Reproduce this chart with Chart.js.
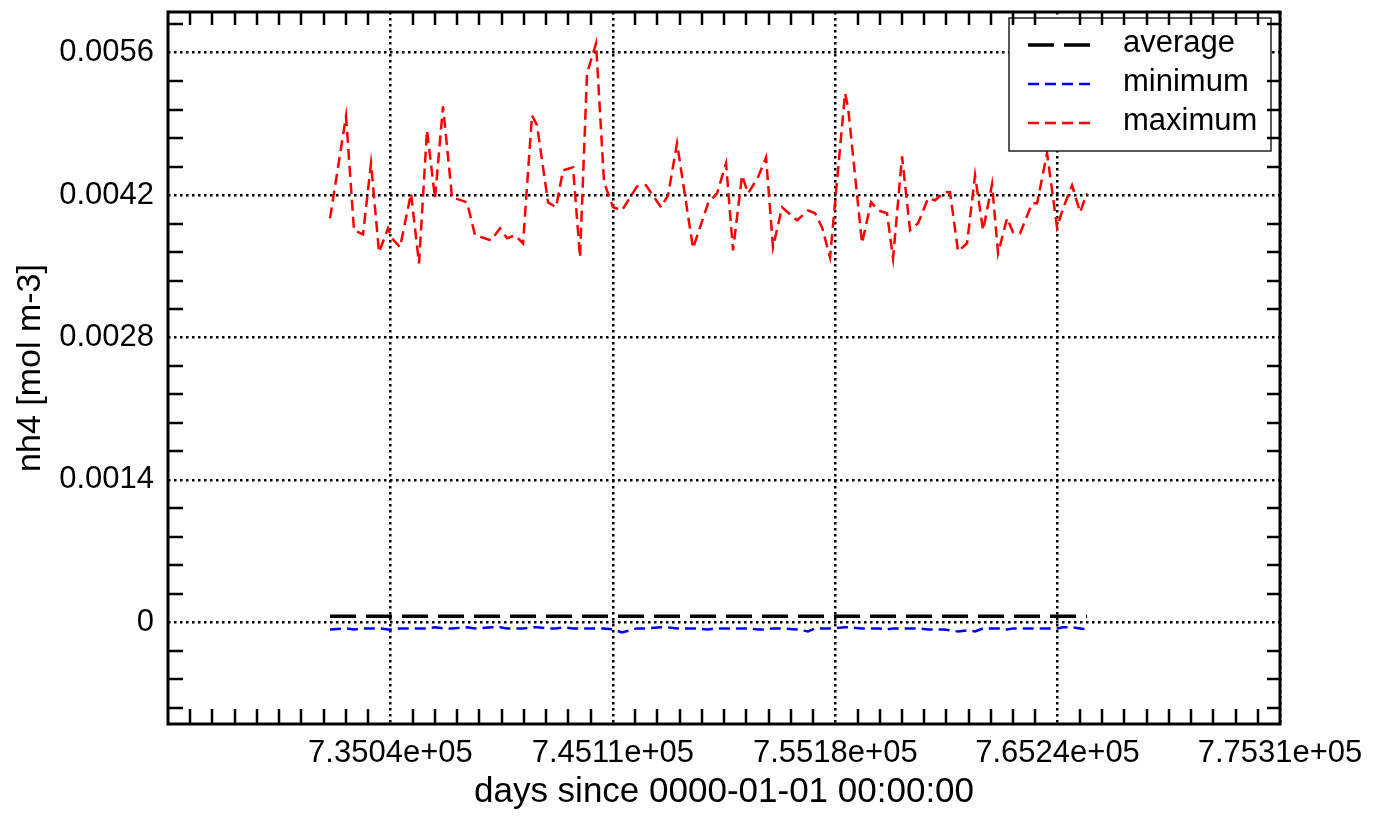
<!DOCTYPE html>
<html>
<head>
<meta charset="utf-8">
<title>nh4</title>
<script src="https://cdn.jsdelivr.net/npm/chart.js@4.4.1/dist/chart.umd.min.js"></script>
<style>
  html, body { margin: 0; padding: 0; background: #fff; }
  #chart { display: block; }
</style>
</head>
<body>
<canvas id="chart" width="1376" height="817"></canvas>
<script>
(function () {
  "use strict";

  // days since 0000-01-01 for each sample
  const DAYS = [
    732307, 733031, 733393, 733801, 734163, 734525, 734932, 735113, 735476, 735974,
    736336, 736698, 737060, 737422, 737830, 738509, 738871, 739595, 740003, 740320,
    740682, 741044, 741451, 741678, 742176, 742538, 742855, 743307, 743624, 743941,
    744349, 744711, 745118, 745526, 746205, 746612, 747291, 747608, 748015, 748740,
    749419, 749826, 750234, 750551, 750958, 751230, 751682, 752044, 752361, 752769,
    753448, 753946, 754263, 754580, 754942, 755621, 755757, 756390, 756798, 757115,
    757522, 757794, 758201, 758563, 758926, 759378, 759695, 760103, 760374, 760736,
    761144, 761506, 761868, 762275, 762547, 762955, 763226, 763543, 764086, 764313,
    764765, 765218, 765490, 765897, 766259, 766576
  ];

  const MAXIMUM = [
    0.003972, 0.004975, 0.003854, 0.003814, 0.004512, 0.003637, 0.003873, 0.003775, 0.003687, 0.004217,
    0.003529, 0.004837, 0.004168, 0.005073, 0.004178, 0.004129, 0.003805, 0.003755, 0.003873, 0.003775,
    0.003805, 0.003726, 0.004984, 0.004886, 0.004129, 0.004080, 0.004444, 0.004473, 0.003588, 0.005397,
    0.005692, 0.004326, 0.004080, 0.004050, 0.004286, 0.004296, 0.004080, 0.004198, 0.004709, 0.003677,
    0.004119, 0.004217, 0.004512, 0.003657, 0.004394, 0.004217, 0.004375, 0.004571, 0.003687, 0.004080,
    0.003952, 0.004050, 0.004021, 0.003883, 0.003588, 0.005201, 0.005063, 0.003726, 0.004129, 0.004050,
    0.004021, 0.003578, 0.004581, 0.003854, 0.003923, 0.004168, 0.004149, 0.004227, 0.004227, 0.003647,
    0.003726, 0.004394, 0.003854, 0.004306, 0.003628, 0.003972, 0.003834, 0.003824, 0.004119, 0.004119,
    0.004611, 0.003883, 0.004070, 0.004296, 0.004031, 0.004217
  ];

  const MINIMUM = [
    -0.00007, -0.00006, -0.00007, -0.00006, -0.00006, -0.00006, -0.00007, -0.00007, -0.00006, -0.00006,
    -0.00006, -0.00006, -0.00005, -0.00006, -0.00006, -0.00005, -0.00006, -0.00005, -0.00005, -0.00006,
    -0.00006, -0.00006, -0.00005, -0.00005, -0.00006, -0.00006, -0.00005, -0.00006, -0.00006, -0.00006,
    -0.00006, -0.00006, -0.00007, -0.00010, -0.00006, -0.00006, -0.00005, -0.00005, -0.00006, -0.00006,
    -0.00007, -0.00006, -0.00006, -0.00006, -0.00006, -0.00006, -0.00007, -0.00007, -0.00006, -0.00006,
    -0.00007, -0.00009, -0.00006, -0.00006, -0.00006, -0.00005, -0.00005, -0.00006, -0.00006, -0.00006,
    -0.00007, -0.00006, -0.00006, -0.00006, -0.00006, -0.00007, -0.00007, -0.00007, -0.00008, -0.00009,
    -0.00008, -0.00009, -0.00006, -0.00006, -0.00006, -0.00007, -0.00006, -0.00006, -0.00006, -0.00006,
    -0.00006, -0.00006, -0.00005, -0.00005, -0.00006, -0.00007
  ];

  const AVERAGE_DAYS = [732307, 766576];
  const AVERAGE = [0.00006, 0.00006];

  const X_MIN = 724973;
  const X_MAX = 775310;
  const X_MAJOR = [735040, 745110, 755180, 765240, 775310];
  const X_LABELS = ["7.3504e+05", "7.4511e+05", "7.5518e+05", "7.6524e+05", "7.7531e+05"];
  const X_MINOR_DIV = 10;

  const Y_MIN = -0.001;
  const Y_MAX = 0.006;
  const Y_MAJOR = [0, 0.0014, 0.0028, 0.0042, 0.0056];
  const Y_LABELS = ["0", "0.0014", "0.0028", "0.0042", "0.0056"];
  const Y_MINOR_DIV = 5;

  const FONT = "'Liberation Sans', Arial, Helvetica, sans-serif";

  function points(xs, ys) {
    return xs.map((x, i) => ({ x: x, y: ys[i] }));
  }

  function buildXTicks(scale) {
    const bounds = [X_MIN].concat(X_MAJOR);
    const ticks = [];
    for (let i = 0; i < bounds.length - 1; i++) {
      const a = bounds[i];
      const b = bounds[i + 1];
      for (let k = 1; k < X_MINOR_DIV; k++) {
        ticks.push({ value: a + (b - a) * k / X_MINOR_DIV, major: false });
      }
      ticks.push({ value: b, major: true, text: X_LABELS[i] });
    }
    scale.ticks = ticks;
  }

  function buildYTicks(scale) {
    const step = (Y_MAJOR[1] - Y_MAJOR[0]) / Y_MINOR_DIV;
    const ticks = [];
    for (let v = Y_MAJOR[0] - step; v > Y_MIN; v -= step) {
      ticks.unshift({ value: v, major: false });
    }
    Y_MAJOR.forEach((m, i) => {
      ticks.push({ value: m, major: true, text: Y_LABELS[i] });
      if (i < Y_MAJOR.length - 1) {
        for (let k = 1; k < Y_MINOR_DIV; k++) ticks.push({ value: m + step * k, major: false });
      }
    });
    const last = Y_MAJOR[Y_MAJOR.length - 1];
    for (let v = last + step; v < Y_MAX; v += step) {
      ticks.push({ value: v, major: false });
    }
    scale.ticks = ticks;
  }

  function gridColor(c) {
    return c.tick && c.tick.major ? "#000" : "rgba(0,0,0,0)";
  }

  // inward minor ticks, plot frame and boxed legend
  const framePlugin = {
    id: "frame",
    afterDatasetsDraw(chart) {
      const ctx = chart.ctx;
      const a = chart.chartArea;
      const sx = chart.scales.x;
      const sy = chart.scales.y;

      // legend
      ctx.save();
      ctx.fillStyle = "#fff";
      ctx.fillRect(1009, 18, 262, 133);
      ctx.strokeStyle = "#222";
      ctx.lineWidth = 1.5;
      ctx.strokeRect(1009, 18, 262, 133);
      const rows = [45, 84, 123];
      chart.data.datasets.forEach((ds, i) => {
        ctx.beginPath();
        ctx.strokeStyle = ds.borderColor;
        ctx.lineWidth = ds.borderWidth;
        ctx.setLineDash(ds.borderDash);
        ctx.moveTo(1028, rows[i]);
        ctx.lineTo(1090, rows[i]);
        ctx.stroke();
        ctx.setLineDash([]);
        ctx.fillStyle = "#000";
        ctx.font = "31px " + FONT;
        ctx.textBaseline = "alphabetic";
        ctx.fillText(ds.label, 1123, rows[i] + 7);
      });
      ctx.restore();

      ctx.save();
      ctx.strokeStyle = "#000";
      ctx.lineWidth = 2.5;
      ctx.beginPath();
      sx.ticks.forEach((t) => {
        if (t.major) return;
        const px = Math.round(sx.getPixelForValue(t.value));
        ctx.moveTo(px, a.bottom);
        ctx.lineTo(px, a.bottom - 15);
        ctx.moveTo(px, a.top);
        ctx.lineTo(px, a.top + 13);
      });
      sy.ticks.forEach((t) => {
        if (t.major) return;
        const py = Math.round(sy.getPixelForValue(t.value));
        ctx.moveTo(a.left, py);
        ctx.lineTo(a.left + 15, py);
        ctx.moveTo(a.right, py);
        ctx.lineTo(a.right - 13, py);
      });
      ctx.stroke();
      ctx.lineWidth = 3;
      ctx.strokeRect(a.left, a.top, a.right - a.left, a.bottom - a.top);
      ctx.restore();
    },
  };

  function init() {
    const canvas = document.getElementById("chart");
    if (!canvas || typeof Chart === "undefined") return;

    new Chart(canvas, {
      type: "line",
      data: {
        datasets: [
          {
            label: "average",
            data: points(AVERAGE_DAYS, AVERAGE),
            borderColor: "#000000",
            borderWidth: 3.5,
            borderDash: [26, 10],
          },
          {
            label: "minimum",
            data: points(DAYS, MINIMUM),
            borderColor: "#0000ff",
            borderWidth: 2.5,
            borderDash: [11, 6],
          },
          {
            label: "maximum",
            data: points(DAYS, MAXIMUM),
            borderColor: "#ff0000",
            borderWidth: 2.5,
            borderDash: [11, 6],
          },
        ],
      },
      options: {
        responsive: false,
        animation: false,
        devicePixelRatio: 1,
        layout: { padding: { top: 12, right: 96, left: 0, bottom: 0 } },
        elements: {
          point: { radius: 0, hoverRadius: 0 },
          line: { tension: 0, fill: false },
        },
        plugins: {
          legend: { display: false },
          tooltip: { enabled: false },
        },
        scales: {
          x: {
            type: "linear",
            min: X_MIN,
            max: X_MAX,
            afterBuildTicks: buildXTicks,
            afterFit(scale) {
              scale.height = 93;
              scale.paddingLeft = 0;
              scale.paddingRight = 0;
            },
            grid: { color: gridColor, lineWidth: 2.5, drawTicks: false },
            border: { display: false, dash: [2.5, 3.5] },
            ticks: {
              autoSkip: false,
              maxRotation: 0,
              padding: 11,
              color: "#000",
              font: { family: FONT, size: 31 },
              callback(value, i, ticks) {
                return ticks[i].text || "";
              },
            },
            title: {
              display: true,
              text: "days since 0000-01-01 00:00:00",
              color: "#000",
              font: { family: FONT, size: 35 },
              padding: { top: 0, bottom: 4 },
            },
          },
          y: {
            type: "linear",
            min: Y_MIN,
            max: Y_MAX,
            afterBuildTicks: buildYTicks,
            afterFit(scale) {
              scale.width = 168;
              scale.paddingTop = 0;
              scale.paddingBottom = 0;
            },
            grid: { color: gridColor, lineWidth: 2.5, drawTicks: false },
            border: { display: false, dash: [2.5, 3.5] },
            ticks: {
              autoSkip: false,
              padding: 14,
              color: "#000",
              font: { family: FONT, size: 31 },
              callback(value, i, ticks) {
                return ticks[i].text || "";
              },
            },
            title: {
              display: true,
              text: "nh4 [mol m-3]",
              color: "#000",
              font: { family: FONT, size: 34 },
              padding: { top: 10, bottom: 0 },
            },
          },
        },
      },
      plugins: [framePlugin],
    });
  }

  if (document.readyState === "loading") {
    document.addEventListener("DOMContentLoaded", init);
  } else {
    init();
  }
})();
</script>
</body>
</html>
